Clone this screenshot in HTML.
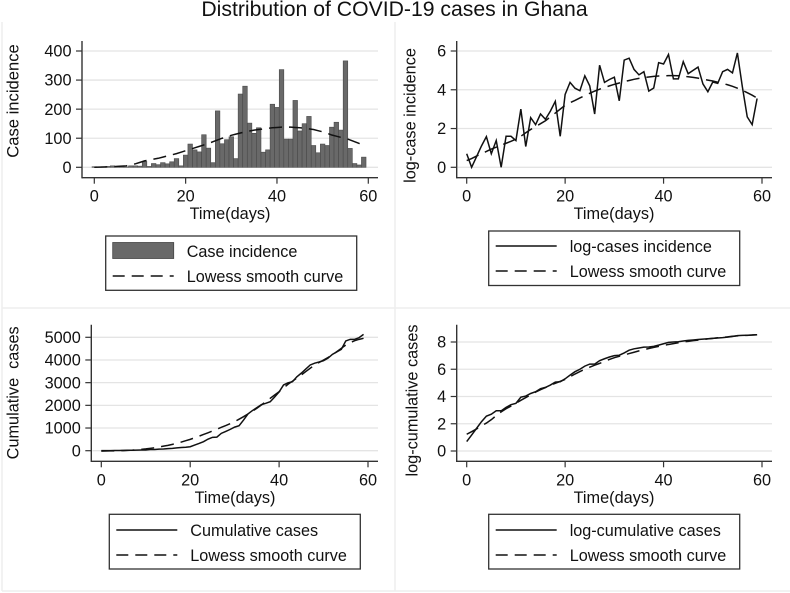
<!DOCTYPE html>
<html lang="en">
<head>
<meta charset="utf-8">
<title>Distribution of COVID-19 cases in Ghana</title>
<style>
html,body{margin:0;padding:0;background:#fff;}
#chart{display:block;width:790px;height:593px;font-family:"Liberation Sans",sans-serif;filter:blur(0.35px);}
</style>
</head>
<body>
<svg id="chart" xmlns="http://www.w3.org/2000/svg" width="790" height="593" viewBox="0 0 790 593">
  <rect x="0" y="0" width="790" height="593" fill="#ffffff"/>
  <g stroke="#eeeeee" stroke-width="1.6" fill="none">
    <line x1="2" y1="22" x2="2" y2="591"/>
    <line x1="395" y1="22" x2="395" y2="591"/>
    <line x1="2" y1="308" x2="790" y2="308"/>
    <line x1="2" y1="591" x2="790" y2="591"/>
  </g>
  <text x="394.5" y="16" text-anchor="middle" font-size="21.2" fill="#111">Distribution of COVID-19 cases in Ghana</text>
  <g id="plots"></g>
</svg>
<script>
const days = [0,1,2,3,4,5,6,7,8,9,10,11,12,13,14,15,16,17,18,19,20,21,22,23,24,25,26,27,28,29,30,31,32,33,34,35,36,37,38,39,40,41,42,43,44,45,46,47,48,49,50,51,52,53,54,55,56,57,58,59];
const xTickValues = [0,20,40,60];
const incidenceTicks = [0,100,200,300,400];
const logIncidenceTicks = [0,2,4,6];
const cumulativeTicks = [0,1000,2000,3000,4000,5000];
const logCumulativeTicks = [0,2,4,6,8];

const caseIncidence = [2,1,2,3,5,2,4,1,5,5,4,20,3,13,9,16,12,19,30,5,42,80,60,53,112,66,16,194,81,95,105,30,252,279,152,117,136,52,60,217,206,336,97,97,230,125,150,175,75,50,80,75,138,155,128,366,65,13,8,35];
const caseLowess = [0,0.5,1,1.5,2,3,4,5,8,12,17,22,25,28,31,35,39,43,47,52,57,62,67,72,77,82,88,94,100,105,110,114,118,122,125,128,130,132,134,136,137,138,138,138,137,136,134,132,130,126,122,117,111,107,103,100,94,88,82,75];

const logIncidence = [0.7,0,0.55,1.1,1.58,0.7,1.38,0,1.6,1.6,1.38,3.0,1.07,2.56,2.2,2.75,2.48,2.9,3.4,1.6,3.76,4.38,4.08,3.95,4.72,4.2,2.75,5.27,4.38,4.53,4.65,3.43,5.53,5.63,5.05,4.77,4.93,3.93,4.09,5.4,5.33,5.82,4.56,4.56,5.45,4.83,5.0,5.17,4.3,3.9,4.4,4.33,4.93,5.05,4.87,5.9,4.17,2.6,2.2,3.55];
const logIncidenceLowess = [0.35,0.45,0.58,0.7,0.82,0.94,1.04,1.14,1.24,1.34,1.45,1.6,1.78,1.95,2.1,2.25,2.4,2.6,2.8,3.0,3.2,3.33,3.45,3.58,3.7,3.82,3.93,4.03,4.12,4.2,4.28,4.35,4.42,4.48,4.54,4.59,4.63,4.66,4.69,4.71,4.72,4.73,4.73,4.72,4.7,4.67,4.64,4.6,4.55,4.5,4.45,4.39,4.33,4.26,4.18,4.08,3.97,3.85,3.72,3.57];

const cumulativeCases = [2,3,4,6,11,13,17,18,23,28,32,52,55,68,77,93,105,123,140,150,176,250,320,397,510,590,600,765,850,940,1040,1100,1350,1620,1770,1900,2030,2090,2160,2370,2590,2900,2990,3040,3260,3420,3600,3780,3860,3910,3970,4080,4250,4360,4470,4840,4910,4910,4985,5130];
const cumulativeLowess = [-20,-15,-10,-5,0,5,15,25,40,60,80,105,130,165,200,235,280,330,380,440,500,570,640,715,790,870,950,1030,1110,1195,1280,1390,1500,1620,1745,1870,2015,2160,2310,2455,2600,2765,2930,3065,3200,3340,3490,3635,3780,3890,4000,4110,4220,4370,4515,4660,4760,4850,4910,4955];

const logCumulative = [0.69,1.17,1.66,2.15,2.56,2.7,2.95,2.95,3.2,3.4,3.5,3.95,4.03,4.22,4.35,4.57,4.67,4.84,5.06,5.08,5.3,5.57,5.82,6.0,6.23,6.38,6.38,6.63,6.77,6.9,7.0,7.03,7.2,7.4,7.5,7.56,7.62,7.63,7.68,7.77,7.87,7.97,8.0,8.02,8.07,8.12,8.15,8.18,8.21,8.24,8.27,8.29,8.32,8.36,8.4,8.47,8.49,8.5,8.51,8.53];
const logCumulativeLowess = [1.23,1.42,1.62,1.85,2.05,2.3,2.6,2.87,3.1,3.3,3.5,3.72,3.92,4.12,4.32,4.5,4.66,4.82,4.97,5.11,5.25,5.45,5.65,5.83,6.0,6.15,6.3,6.43,6.57,6.72,6.85,6.95,7.05,7.15,7.25,7.35,7.44,7.52,7.6,7.68,7.75,7.82,7.88,7.94,8.0,8.05,8.1,8.14,8.18,8.23,8.27,8.31,8.35,8.38,8.42,8.45,8.47,8.49,8.51,8.53];

const NS = 'http://www.w3.org/2000/svg';
const root = document.getElementById('plots');

function mk(tag, parent, props) {
  const node = document.createElementNS(NS, tag);
  for (const k in props) node.setAttribute(k, props[k]);
  parent.appendChild(node);
  return node;
}
function linearAxis(d0, d1, r0, r1) {
  return function (v) { return r0 + (v - d0) * (r1 - r0) / (d1 - d0); };
}
function linePath(xs, ys, sx, sy) {
  return xs.map(function (d, i) {
    return (i ? 'L' : 'M') + sx(d).toFixed(2) + ' ' + sy(ys[i]).toFixed(2);
  }).join(' ');
}

function drawFrame(g, p, sx, sy) {
  p.yTicks.forEach(function (t) {
    const grid = mk('line', g, {x1: p.left + 1, x2: p.right, y1: sy(t), y2: sy(t), stroke: '#e4e4e4', 'stroke-width': 1.3});
    
    
    const tick = mk('line', g, {x1: p.left - 6, x2: p.left, y1: sy(t), y2: sy(t), stroke: '#333', 'stroke-width': 1.2});
    
    
    const label = mk('text', g, {x: p.left - 10.5, y: sy(t) + 5.6, 'text-anchor': 'end', 'font-size': 16.3, fill: '#111'});
    
    
    label.textContent = String(t);
  });
  xTickValues.forEach(function (t) {
    const tick = mk('line', g, {x1: sx(t), x2: sx(t), y1: p.bottom, y2: p.bottom + 6, stroke: '#333', 'stroke-width': 1.2});
    
    
    const label = mk('text', g, {x: sx(t), y: p.bottom + 24, 'text-anchor': 'middle', 'font-size': 16.3, fill: '#111'});
    
    
    label.textContent = String(t);
  });
  const yAxis = mk('line', g, {x1: p.left, x2: p.left, y1: p.top, y2: p.bottom + 0.7, stroke: '#333', 'stroke-width': 1.4});
  
  
  const xAxis = mk('line', g, {x1: p.left, x2: p.right, y1: p.bottom, y2: p.bottom, stroke: '#333', 'stroke-width': 1.4});
  
  
  const xTitle = mk('text', g, {x: p.xTitleX, y: p.xTitleY, 'text-anchor': 'middle', 'font-size': 16.3, fill: '#111'});
  
  
  xTitle.textContent = 'Time(days)';
  const yTitle = mk('text', g, {transform: 'translate(' + p.yTitleX + ' ' + p.yTitleY + ') rotate(-90)', 'text-anchor': 'middle', 'font-size': p.yTitleSize, fill: '#111'});
  
  
  yTitle.setAttribute('xml:space', 'preserve');
  yTitle.style.whiteSpace = 'pre';
  yTitle.textContent = p.yTitle;
}

function drawLegend(g, p) {
  const L = p.legend;
  const box = mk('rect', g, {x: L.x, y: L.y, width: L.w, height: L.h, fill: '#fff', stroke: '#333', 'stroke-width': 1.3});
  
  
  const sx0 = L.x + 7, sx1 = L.x + 68, tx = L.x + 81;
  if (p.bars) {
    const sw = mk('rect', g, {x: sx0, y: L.y1 - 8.5, width: 61, height: 16, fill: '#696969', stroke: '#444', 'stroke-width': 0.8});
    
    
  } else {
    const sw = mk('line', g, {x1: sx0, x2: sx1, y1: L.y1, y2: L.y1, stroke: '#111', 'stroke-width': 1.5});
    
    
  }
  const dash = mk('line', g, {x1: sx0, x2: sx1, y1: L.y2, y2: L.y2, stroke: '#111', 'stroke-width': 1.5, 'stroke-dasharray': '12 7'});
  
  
  const t1 = mk('text', g, {x: tx, y: L.y1 + 5.8, 'font-size': 16.2, fill: '#111'});
  
  
  t1.textContent = p.seriesName;
  const t2 = mk('text', g, {x: tx, y: L.y2 + 5.8, 'font-size': 16.2, fill: '#111'});
  
  
  t2.textContent = 'Lowess smooth curve';
}

function drawPanel(p) {
  const g = mk('g', root, {});
  
  
  const sx = linearAxis(0, 60, p.x0, p.x60);
  const sy = linearAxis(p.yTicks[0], p.yTicks[p.yTicks.length - 1], p.y0, p.yMax);
  drawFrame(g, p, sx, sy);
  if (p.bars) {
    const w = sx(1) - sx(0);
    days.forEach(function (d, i) {
      const top = sy(p.values[i]);
      const bar = mk('rect', g, {x: sx(d) - w / 2, y: top, width: w, height: sy(0) - top, fill: '#696969', stroke: '#4a4a4a', 'stroke-width': 0.6});
      
      
    });
  } else {
    const line = mk('path', g, {d: linePath(days, p.values, sx, sy), fill: 'none', stroke: '#111', 'stroke-width': 1.5, 'stroke-linejoin': 'miter'});
    
    
  }
  const smooth = mk('path', g, {d: linePath(days, p.smooth, sx, sy), fill: 'none', stroke: '#111', 'stroke-width': 1.5, 'stroke-dasharray': '13 7'});
  
  
  drawLegend(g, p);
}

drawPanel({
  name: 'case-incidence-panel', bars: true, values: caseIncidence, smooth: caseLowess, yTicks: incidenceTicks,
  x0: 94.3, x60: 368.3, y0: 167.3, yMax: 51, left: 82, right: 378, top: 41, bottom: 177.7,
  xTitleX: 230, xTitleY: 219, yTitle: 'Case incidence', yTitleX: 18.5, yTitleY: 101, yTitleSize: 16.6,
  seriesName: 'Case incidence',
  legend: {x: 105.7, y: 236, w: 251, h: 54.3, y1: 251, y2: 276}
});
drawPanel({
  name: 'log-case-incidence-panel', bars: false, values: logIncidence, smooth: logIncidenceLowess, yTicks: logIncidenceTicks,
  x0: 466.7, x60: 762, y0: 167.3, yMax: 51, left: 456.7, right: 772, top: 41, bottom: 177.7,
  xTitleX: 614, xTitleY: 219, yTitle: 'log-case incidence', yTitleX: 415.7, yTitleY: 115.5, yTitleSize: 16.3,
  seriesName: 'log-cases incidence',
  legend: {x: 488.7, y: 231, w: 251, h: 54.5, y1: 246, y2: 271}
});
drawPanel({
  name: 'cumulative-cases-panel', bars: false, values: cumulativeCases, smooth: cumulativeLowess, yTicks: cumulativeTicks,
  x0: 101.3, x60: 368, y0: 450.7, yMax: 337.3, left: 91.3, right: 378, top: 324.7, bottom: 461.3,
  xTitleX: 235, xTitleY: 503, yTitle: 'Cumulative  cases', yTitleX: 18.5, yTitleY: 392.8, yTitleSize: 16.3,
  seriesName: 'Cumulative cases',
  legend: {x: 109.3, y: 514.3, w: 251, h: 54.7, y1: 530, y2: 555}
});
drawPanel({
  name: 'log-cumulative-cases-panel', bars: false, values: logCumulative, smooth: logCumulativeLowess, yTicks: logCumulativeTicks,
  x0: 466.7, x60: 762, y0: 451, yMax: 342, left: 456.7, right: 772, top: 324.7, bottom: 461.3,
  xTitleX: 614, xTitleY: 503, yTitle: 'log-cumulative cases', yTitleX: 417.7, yTitleY: 400.5, yTitleSize: 16.3,
  seriesName: 'log-cumulative cases',
  legend: {x: 488.7, y: 514.3, w: 251, h: 54.7, y1: 530, y2: 555}
});
</script>
</body>
</html>
